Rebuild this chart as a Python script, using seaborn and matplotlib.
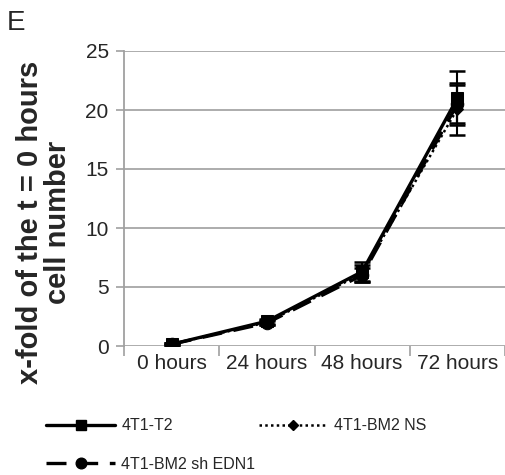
import numpy as np
import pandas as pd
import matplotlib
matplotlib.use("Agg")
import matplotlib.pyplot as plt
import seaborn as sns
from matplotlib.lines import Line2D

categories = ["0 hours", "24 hours", "48 hours", "72 hours"]
t2_vals = [0.15, 2.1, 6.3, 21.0]
t2_err = [0.1, 0.2, 0.8, 2.3]
ns_vals = [0.15, 2.0, 6.15, 20.1]
ns_err = [0.1, 0.2, 0.7, 2.2]
edn1_vals = [0.15, 1.95, 6.0, 20.5]
edn1_err = [0.1, 0.2, 0.6, 1.6]
series_names = ["4T1-T2", "4T1-BM2 NS", "4T1-BM2 sh EDN1"]
yticks = [0, 5, 10, 15, 20, 25]

sns.set_style("white")
plt.rcParams["font.family"] = ["Liberation Sans", "DejaVu Sans"]

fig = plt.figure(figsize=(5.05, 4.75), dpi=100)
ax = fig.add_axes([124 / 505, 1 - 346 / 475, (505 - 124) / 505, (346 - 51) / 475])

xpos = np.arange(len(categories))
frames = []
for name, vals in zip(series_names, [t2_vals, ns_vals, edn1_vals]):
    frames.append(pd.DataFrame({"x": xpos, "y": vals, "series": name}))
df = pd.concat(frames, ignore_index=True)

styles = {
    "4T1-T2": dict(ls="-", marker="s", ms=8, lw=2.4),
    "4T1-BM2 NS": dict(ls=(0, (1, 1.3)), marker="D", ms=6.5, lw=1.8),
    "4T1-BM2 sh EDN1": dict(ls=(0, (6, 3.5)), marker="o", ms=9, lw=2.4),
}
errs = {"4T1-T2": t2_err, "4T1-BM2 NS": ns_err, "4T1-BM2 sh EDN1": edn1_err}

for name in ["4T1-BM2 sh EDN1", "4T1-BM2 NS", "4T1-T2"]:
    st = styles[name]
    sub = df[df["series"] == name]
    sns.lineplot(data=sub, x="x", y="y", ax=ax, color="black", linestyle=st["ls"],
                 linewidth=st["lw"], marker=st["marker"], markersize=st["ms"],
                 markeredgecolor="black", markerfacecolor="black", label=name,
                 legend=False)
    ax.errorbar(sub["x"], sub["y"], yerr=errs[name], fmt="none", ecolor="black",
                elinewidth=1.5, capsize=5.5, capthick=1.8, zorder=3)

leg_handles = []
for name in series_names:
    st = styles[name]
    leg_handles.append(Line2D([0], [0], color="black", linestyle=st["ls"], linewidth=st["lw"],
                              marker=st["marker"], markersize=st["ms"] * 0.85,
                              markerfacecolor="black", markeredgecolor="black"))
order = [0, 2, 1]
fig.legend([leg_handles[i] for i in order], [series_names[i] for i in order],
           loc="upper left", bbox_to_anchor=(40 / 505, 1 - 412 / 475), ncol=2,
           frameon=False, fontsize=11.5, handlelength=4.3, handletextpad=0.4,
           columnspacing=0.2, labelspacing=1.45, numpoints=1, borderaxespad=0)

ax.set_xlim(-0.5, 3.5)
ax.set_ylim(0, 25)
ax.set_yticks(yticks)
ax.set_yticklabels([str(v) for v in yticks], fontsize=15)
ax.set_xticks(xpos)
ax.set_xticklabels(categories, fontsize=15)
ax.set_xticks(np.arange(-0.5, 3.6, 1.0), minor=True)
ax.tick_params(axis="x", which="major", length=0, pad=6)
ax.tick_params(axis="x", which="minor", length=7, width=1.2, color="#a0a0a0", direction="out", bottom=True)
ax.tick_params(axis="y", length=6, width=1.2, color="#a0a0a0", direction="out", left=True, pad=5)
ax.set_xlabel("")
ax.set_ylabel("")
ax.grid(axis="y", color="#a6a6a6", linewidth=1.3)
ax.grid(axis="x", visible=False)
for s in ["top", "right", "bottom"]:
    ax.spines[s].set_visible(False)
ax.spines["left"].set_color("#a0a0a0")
ax.spines["left"].set_linewidth(1.3)
ax.set_axisbelow(True)

fig.text(44 / 505, 1 - 222 / 475, "x-fold of the t = 0 hours\ncell number", rotation=90,
         ha="center", va="center", fontsize=21, fontweight="bold", multialignment="center",
         linespacing=1.0)
fig.text(7 / 505, 1 - 23 / 475, "E", ha="left", va="center", fontsize=20)

fig.savefig("out.png", dpi=100)
